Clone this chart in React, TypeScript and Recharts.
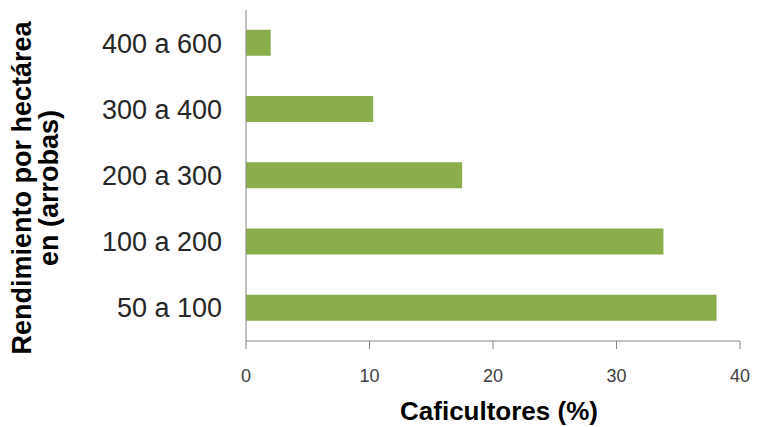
import { BarChart, Bar, XAxis, YAxis } from "recharts";

const RANGES = ["400 a 600", "300 a 400", "200 a 300", "100 a 200", "50 a 100"];
const SHARE = [2, 10.3, 17.5, 33.8, 38.1];
const X_TICKS = [0, 10, 20, 30, 40];

const data = RANGES.map((range, i) => ({ range, share: SHARE[i] }));

const FONT = '"Liberation Sans", Arial, sans-serif';
const AXIS_GRAY = "#868686";

function YTitle() {
  // two-line rotated title, first line on the left
  return (
    <text
      transform="rotate(-90, 31, 188)"
      x={31}
      y={188}
      textAnchor="middle"
      fontFamily={FONT}
      fontWeight="bold"
      fontSize={27}
      fill="#000"
    >
      <tspan x={31} y={188}>Rendimiento por hectárea</tspan>
      <tspan x={31} dy={27}>en (arrobas)</tspan>
    </text>
  );
}

function XTitle() {
  return (
    <text
      x={499}
      y={420}
      textAnchor="middle"
      fontFamily={FONT}
      fontWeight="bold"
      fontSize={26}
      fill="#000"
    >
      Caficultores (%)
    </text>
  );
}

export default function App() {
  return (
    <div style={{ position: "absolute", left: 0, top: 0, background: "#fff" }}>
      <BarChart
        width={765}
        height={427}
        data={data}
        layout="vertical"
        barCategoryGap="30%"
        margin={{ top: 10, right: 25, left: 0, bottom: 0 }}
      >
        <XAxis
          type="number"
          domain={[0, 40]}
          ticks={X_TICKS}
          height={86}
          tickSize={8}
          tickMargin={20}
          stroke={AXIS_GRAY}
          tick={{ fontSize: 18, fill: "#404040", fontFamily: FONT }}
          label={{ content: <XTitle /> }}
        />
        <YAxis
          type="category"
          dataKey="range"
          width={246}
          tickLine={false}
          tickSize={0}
          tickMargin={24}
          stroke={AXIS_GRAY}
          tick={{ fontSize: 27, fill: "#262626", fontFamily: FONT }}
          label={{ content: <YTitle /> }}
        />
        <Bar dataKey="share" fill="#8AAE4B" isAnimationActive={false} />
      </BarChart>
    </div>
  );
}
